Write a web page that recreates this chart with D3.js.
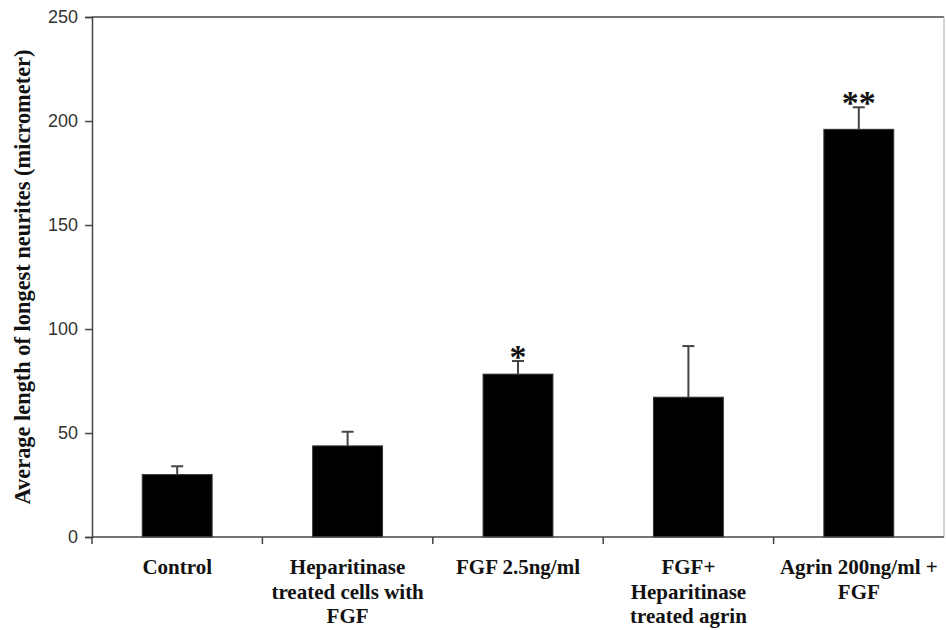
<!DOCTYPE html>
<html>
<head>
<meta charset="utf-8">
<script src="https://cdn.jsdelivr.net/npm/d3@7"></script>
<style>
  body { margin: 0; background: #fff; }
  svg { display: block; }
</style>
</head>
<body>
<div id="chart"></div>
<script>
// neurite length per treatment
const categories = ["Control", "Heparitinase treated cells with FGF", "FGF 2.5ng/ml",
                    "FGF+ Heparitinase treated agrin", "Agrin 200ng/ml + FGF"];
const labelLines = [
    ["Control"],
    ["Heparitinase", "treated cells with", "FGF"],
    ["FGF 2.5ng/ml"],
    ["FGF+", "Heparitinase", "treated agrin"],
    ["Agrin 200ng/ml +", "FGF"]
];
const means = [30, 43.8, 78.3, 67.2, 196];
const errors = [4, 6.8, 6.3, 24.6, 10.6];
const stars = ["", "", "*", "", "**"];
const yTicks = [0, 50, 100, 150, 200, 250];

// dimensions
const W = 946, H = 630;
const margin = {top: 17, right: 2, bottom: 93, left: 92};
const width = W - margin.left - margin.right;
const height = H - margin.top - margin.bottom;

const svg = d3.select("#chart")
    .append("svg")
    .attr("width", W)
    .attr("height", H);

const g = svg.append("g")
    .attr("transform", `translate(${margin.left},${margin.top})`);

const x = d3.scaleBand()
    .domain(categories)
    .range([0, width])
    .paddingInner(0.59)
    .paddingOuter(0.295);

const y = d3.scaleLinear()
    .domain([0, 250])
    .range([height, 0]);

// frame: top and right edge
g.append("line")
    .attr("x1", 0).attr("x2", width)
    .attr("y1", 0).attr("y2", 0)
    .attr("stroke", "#444").attr("stroke-width", 1.5);
g.append("line")
    .attr("x1", width).attr("x2", width)
    .attr("y1", 0).attr("y2", height)
    .attr("stroke", "#aaa").attr("stroke-width", 1);

// bars
const data = categories.map((c, i) => ({c, m: means[i], e: errors[i], s: stars[i]}));

g.selectAll("rect.bar")
    .data(data)
    .join("rect")
    .attr("class", "bar")
    .attr("x", d => x(d.c))
    .attr("y", d => y(d.m))
    .attr("width", x.bandwidth())
    .attr("height", d => y(0) - y(d.m))
    .attr("fill", "#000")
    .attr("stroke", "#333")
    .attr("stroke-width", 1);

// upper error bars
const cap = 6;
data.forEach(d => {
    const cx = x(d.c) + x.bandwidth() / 2;
    g.append("line")
        .attr("x1", cx).attr("x2", cx)
        .attr("y1", y(d.m)).attr("y2", y(d.m + d.e))
        .attr("stroke", "#444").attr("stroke-width", 2);
    g.append("line")
        .attr("x1", cx - cap).attr("x2", cx + cap)
        .attr("y1", y(d.m + d.e)).attr("y2", y(d.m + d.e))
        .attr("stroke", "#444").attr("stroke-width", 2);
    if (d.s) {
        g.append("text")
            .attr("x", cx)
            .attr("y", y(d.m + d.e) + 7)
            .attr("text-anchor", "middle")
            .attr("font-family", "Liberation Serif, serif")
            .attr("font-weight", "bold")
            .attr("font-size", 34)
            .attr("fill", "#111")
            .text(d.s);
    }
});

// y axis
const yAxis = g.append("g")
    .call(d3.axisLeft(y).tickValues(yTicks).tickSize(7).tickPadding(7));
yAxis.select(".domain").attr("stroke", "#444").attr("stroke-width", 1.5);
yAxis.selectAll(".tick line").attr("stroke", "#444").attr("stroke-width", 1.5);
yAxis.selectAll(".tick text")
    .attr("font-family", "Liberation Sans, Arial, sans-serif")
    .attr("font-size", 18)
    .attr("fill", "#333");

// x axis line with ticks on category boundaries
g.append("line")
    .attr("x1", 0).attr("x2", width)
    .attr("y1", height).attr("y2", height)
    .attr("stroke", "#444").attr("stroke-width", 1.5);
d3.range(categories.length).forEach(i => {
    const tx = i * x.step();
    g.append("line")
        .attr("x1", tx).attr("x2", tx)
        .attr("y1", height).attr("y2", height + 7)
        .attr("stroke", "#444").attr("stroke-width", 1.5);
});

// category labels
const lab = g.selectAll("text.cat")
    .data(data)
    .join("text")
    .attr("class", "cat")
    .attr("text-anchor", "middle")
    .attr("font-family", "Liberation Serif, serif")
    .attr("font-weight", "bold")
    .attr("font-size", 21)
    .attr("fill", "#111")
    .attr("transform", d => `translate(${x(d.c) + x.bandwidth() / 2},${height + 37})`);

lab.each(function(d, i) {
    d3.select(this).selectAll("tspan")
        .data(labelLines[i])
        .join("tspan")
        .attr("x", 0)
        .attr("dy", (t, j) => j === 0 ? 0 : 24.5)
        .text(t => t);
});

// y axis title
svg.append("text")
    .attr("transform", `translate(30,${margin.top + height / 2}) rotate(-90)`)
    .attr("text-anchor", "middle")
    .attr("font-family", "Liberation Serif, serif")
    .attr("font-weight", "bold")
    .attr("font-size", 22.4)
    .attr("fill", "#111")
    .text("Average length of longest neurites (micrometer)");
</script>
</body>
</html>
